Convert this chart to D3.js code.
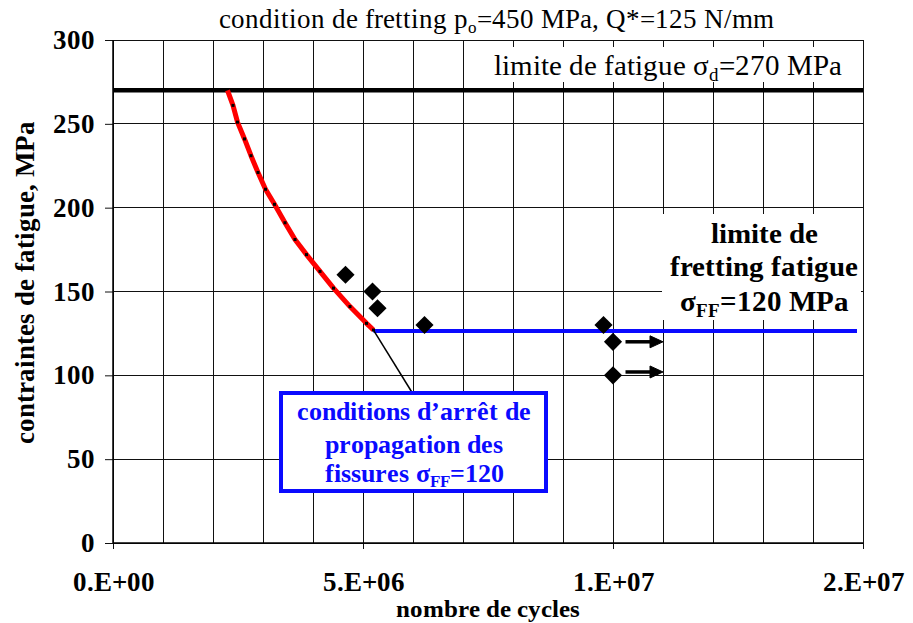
<!DOCTYPE html>
<html lang="fr"><head>
<script src="https://cdn.jsdelivr.net/npm/d3@7"></script>
<style>
@font-face { font-family: "ChartSerif"; font-weight: 400; src: local("Liberation Serif"), local("LiberationSerif"), local("LiberationSerif-Regular"), local("Tinos"), local("Tinos-Regular"), local("Times New Roman"); }
@font-face { font-family: "ChartSerif"; font-weight: 700; src: local("Liberation Serif Bold"), local("LiberationSerif-Bold"), local("Tinos Bold"), local("Tinos-Bold"), local("Times New Roman Bold"); }
svg text { font-family: "ChartSerif", "Liberation Serif"; }
</style>
</head><body style="margin:0"><svg id="c" width="913" height="623"></svg>
<script>
// ---- data ----
const xTickValues = [0, 5e6, 1e7, 1.5e7];
const xTickLabels = ["0.E+00", "5.E+06", "1.E+07", "2.E+07"];
const yTickValues = [0, 50, 100, 150, 200, 250, 300];
const curveCycles = [2.29e6, 2.40e6, 2.49e6, 2.63e6, 2.76e6, 2.90e6, 3.05e6, 3.23e6, 3.44e6, 3.64e6, 3.87e6, 4.14e6, 4.41e6, 4.74e6, 5.07e6, 5.21e6];
const curveStress = [270, 261, 251, 241, 231, 221, 211, 202, 191, 181, 172, 162, 152, 141, 131, 127];
const testCycles = [4.65e6, 5.19e6, 5.29e6, 6.23e6, 9.81e6, 1.0e7, 1.0e7];
const testStress = [160, 150, 140, 130, 130, 120, 100];
const runoutStress = [120, 102];
const runoutFrom = 1.025e7, runoutTo = 1.1e7;
const fatigueLimit = 270;
const frettingLimit = 126.5;
const frettingLineEnd = 1.488e7;

const FONT = '"ChartSerif", "Liberation Serif"';
const SIG = "\u03c3";
const svg = d3.select("#c");
const x = d3.scaleLinear().domain([0, 1.5e7]).range([113, 863]);
const y = d3.scaleLinear().domain([0, 300]).range([543, 40]);

function txt(parent, attrs) {
  const t = parent.append("text").attr("font-family", FONT);
  Object.entries(attrs).forEach(([k, v]) => t.attr(k, v));
  return t;
}

// grid
const g = svg.append("g").attr("shape-rendering", "crispEdges");
g.selectAll(".vg").data(d3.range(0, 1.5e7 + 1, 1e6)).join("line")
  .attr("x1", d => x(d)).attr("x2", d => x(d)).attr("y1", y(0)).attr("y2", y(300))
  .attr("stroke", "#111").attr("stroke-width", 1);
g.selectAll(".hg").data(yTickValues).join("line")
  .attr("x1", x(0)).attr("x2", x(1.5e7)).attr("y1", d => y(d)).attr("y2", d => y(d))
  .attr("stroke", "#111").attr("stroke-width", 1);

// axes
const yAxis = d3.axisLeft(y).tickValues(yTickValues).tickSize(8).tickPadding(10);
const ya = svg.append("g").attr("transform", `translate(${x(0)},0)`).call(yAxis);
ya.attr("font-family", null);
ya.select(".domain").remove();
ya.selectAll("line").attr("stroke", "#111");
ya.selectAll("text").attr("font-family", FONT).attr("font-size", 27).attr("font-weight", "bold").attr("fill", "#000");

const xAxis = d3.axisBottom(x).tickValues(xTickValues).tickFormat((d, i) => xTickLabels[i]).tickSize(6).tickPadding(23);
const xa = svg.append("g").attr("transform", `translate(0,${y(0)})`).call(xAxis);
xa.attr("font-family", null);
xa.select(".domain").remove();
xa.selectAll("line").attr("stroke", "#111");
xa.selectAll("text").attr("font-family", FONT).attr("font-size", 27).attr("font-weight", "bold").attr("fill", "#000");

// axis lines
svg.append("line").attr("x1", x(0)).attr("x2", x(1.5e7)).attr("y1", y(0)).attr("y2", y(0)).attr("stroke", "#000").attr("stroke-width", 1.5);
svg.append("line").attr("x1", x(0)).attr("x2", x(0)).attr("y1", y(0)).attr("y2", y(300)).attr("stroke", "#000").attr("stroke-width", 1.5);

// white label boxes
svg.append("rect").attr("x", 470).attr("y", 47).attr("width", 391).attr("height", 35).attr("fill", "#fff");
svg.append("rect").attr("x", 662).attr("y", 214).attr("width", 199).attr("height", 106).attr("fill", "#fff");

// fatigue limit line
svg.append("line").attr("x1", x(0)).attr("x2", x(1.5e7)).attr("y1", y(fatigueLimit)).attr("y2", y(fatigueLimit))
  .attr("stroke", "#000").attr("stroke-width", 4.5);

// fretting limit line (blue)
svg.append("line").attr("x1", x(curveCycles[curveCycles.length - 1])).attr("x2", x(frettingLineEnd))
  .attr("y1", y(frettingLimit)).attr("y2", y(frettingLimit)).attr("stroke", "#0a0aff").attr("stroke-width", 4);

// red curve
const curve = curveCycles.map((c, i) => [c, curveStress[i]]);
svg.append("path").datum(curve)
  .attr("d", d3.line().x(d => x(d[0])).y(d => y(d[1])))
  .attr("fill", "none").attr("stroke", "#ff0000").attr("stroke-width", 5).attr("stroke-linejoin", "round");
svg.selectAll(".cm").data(curve.slice(1)).join("rect")
  .attr("x", d => x(d[0]) - 1.5).attr("y", d => y(d[1]) - 1.5).attr("width", 3).attr("height", 3).attr("fill", "#000");

// diamonds
const pts = testCycles.map((c, i) => [c, testStress[i]]);
svg.selectAll(".dm").data(pts).join("path")
  .attr("d", d3.symbol(d3.symbolSquare, 165))
  .attr("transform", d => `translate(${x(d[0])},${y(d[1])}) rotate(45)`)
  .attr("fill", "#000");

// runout arrows
runoutStress.forEach(s => {
  const yy = y(s), x1 = x(runoutFrom), x2 = x(runoutTo);
  svg.append("line").attr("x1", x1).attr("x2", x2 - 8).attr("y1", yy).attr("y2", yy).attr("stroke", "#000").attr("stroke-width", 3.5);
  svg.append("path").attr("d", `M${x2 - 13},${yy - 6}L${x2},${yy}L${x2 - 13},${yy + 6}Z`).attr("fill", "#000").attr("stroke", "#000").attr("stroke-width", 1);
});

// leader line
const ex = x(curveCycles[curveCycles.length - 1]), ey = y(curveStress[curveStress.length - 1]);
svg.append("line").attr("x1", ex).attr("y1", ey).attr("x2", 413).attr("y2", 394).attr("stroke", "#000").attr("stroke-width", 1.5);

// blue annotation box
svg.append("rect").attr("x", 281).attr("y", 393).attr("width", 265).attr("height", 98)
  .attr("fill", "#fff").attr("stroke", "#0a0aff").attr("stroke-width", 4);
const blue = {"fill": "#0a0aff", "font-weight": "bold", "font-size": 25.5, "text-anchor": "middle", "x": 414};
txt(svg, {...blue, y: 420}).text("conditions d\u2019arr\u00eat de");
txt(svg, {...blue, y: 453}).text("propagation des");
const t3 = txt(svg, {...blue, y: 482});
t3.append("tspan").text("fissures " + SIG);
t3.append("tspan").attr("font-size", 17).attr("dy", 5).text("FF");
t3.append("tspan").attr("dy", -5).text("=120");

// right label
const rb = {"fill": "#000", "font-weight": "bold", "font-size": 28.5, "text-anchor": "middle", "x": 764};
txt(svg, {...rb, y: 243}).text("limite de");
txt(svg, {...rb, y: 276}).text("fretting fatigue");
const r3 = txt(svg, {...rb, y: 311});
r3.append("tspan").text(SIG);
r3.append("tspan").attr("font-size", 19).attr("dy", 6).text("FF");
r3.append("tspan").attr("dy", -6).text("=120 MPa");

// top label
const tl = txt(svg, {x: 668, y: 75, "font-size": 28.5, "text-anchor": "middle", fill: "#000"});
tl.append("tspan").text("limite de fatigue " + SIG);
tl.append("tspan").attr("font-size", 19).attr("dy", 6).text("d");
tl.append("tspan").attr("dy", -6).text("=270 MPa");

// title
const tt = txt(svg, {x: 496, y: 28, "font-size": 26.5, "text-anchor": "middle", fill: "#000"});
tt.append("tspan").text("condition de fretting p");
tt.append("tspan").attr("font-size", 17).attr("dy", 5).text("o");
tt.append("tspan").attr("dy", -5).text("=450 MPa, Q*=125 N/mm");

// axis titles
txt(svg, {x: 488, y: 617, "font-size": 25, "font-weight": "bold", "text-anchor": "middle"}).text("nombre de cycles");
txt(svg, {transform: "translate(34,282) rotate(-90)", "font-size": 26.5, "font-weight": "bold", "text-anchor": "middle"}).text("contraintes de fatigue, MPa");
</script></body></html>
